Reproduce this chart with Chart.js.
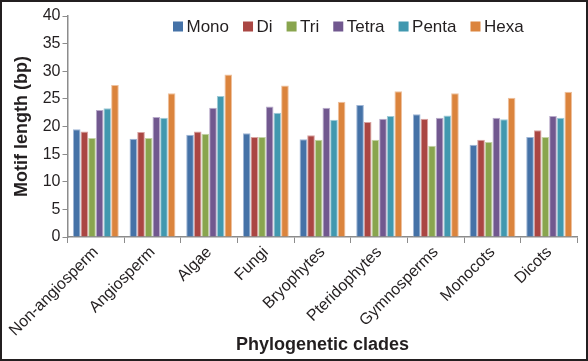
<!DOCTYPE html>
<html>
<head>
<meta charset="utf-8">
<script src="https://cdn.jsdelivr.net/npm/chart.js@4/dist/chart.umd.min.js"></script>
<style>
  html, body { margin: 0; padding: 0; background: #fff; }
  #frame { position: relative; width: 588px; height: 361px; box-sizing: border-box; border: 2px solid #231f20; background: #fff; }
  #wrap { position: absolute; left: 0; top: 0; width: 584px; height: 357px; }
</style>
</head>
<body>
<div id="frame"><div id="wrap"><canvas id="c"></canvas></div></div>
<script>
const categories = ["Non-angiosperm", "Angiosperm", "Algae", "Fungi", "Bryophytes", "Pteridophytes", "Gymnosperms", "Monocots", "Dicots"];
const seriesNames = ["Mono", "Di", "Tri", "Tetra", "Penta", "Hexa"];
const mono  = [19.5, 17.8, 18.5, 18.8, 17.7, 23.9, 22.2, 16.7, 18.1];
const di    = [19.1, 19.0, 19.1, 18.1, 18.4, 20.8, 21.4, 17.6, 19.3];
const tri   = [17.9, 17.9, 18.7, 18.1, 17.6, 17.6, 16.5, 17.2, 18.1];
const tetra = [23.0, 21.7, 23.4, 23.6, 23.4, 21.4, 21.6, 21.6, 21.9];
const penta = [23.3, 21.6, 25.5, 22.5, 21.2, 21.9, 22.0, 21.3, 21.6];
const hexa  = [27.5, 26.0, 29.4, 27.4, 24.5, 26.4, 26.0, 25.2, 26.3];
const yTicks = [0, 5, 10, 15, 20, 25, 30, 35, 40];
const colors = ["#4572A7", "#AA4643", "#89A54E", "#71588F", "#4198AF", "#DB843D"];
const edges  = ["#9fb6d6", "#d9a3a1", "#c4d4a6", "#b9abcb", "#a0cbd7", "#eec19e"];

const seriesValues = [mono, di, tri, tetra, penta, hexa];
const FONT = "'Liberation Sans', Arial, sans-serif";
const TEXT = "#231f20";
const AXIS = "#8c8c8c";

const legendPlugin = {
  id: 'customLegend',
  afterDraw(chart) {
    const ctx = chart.ctx;
    ctx.save();
    ctx.font = "17px " + FONT;
    ctx.textBaseline = 'middle';
    ctx.textAlign = 'left';
    let x = 171;
    const yMid = 24.5;
    const box = 10;
    chart.data.datasets.forEach(ds => {
      ctx.fillStyle = ds.backgroundColor;
      ctx.fillRect(x, yMid - box / 2, box, box);
      x += box + 3.5;
      ctx.fillStyle = TEXT;
      ctx.fillText(ds.label, x, yMid + 1);
      x += ctx.measureText(ds.label).width + 14;
    });
    ctx.restore();
  }
};

new Chart(document.getElementById('c'), {
  type: 'bar',
  data: {
    labels: categories,
    datasets: seriesNames.map((name, i) => ({
      label: name,
      data: seriesValues[i],
      backgroundColor: colors[i],
      borderColor: edges[i],
      borderWidth: 1,
      categoryPercentage: 0.81,
      barPercentage: 1.0
    }))
  },
  options: {
    responsive: true,
    maintainAspectRatio: false,
    animation: false,
    events: [],
    layout: { padding: { top: 14, right: 8.5, left: 0, bottom: 0 } },
    plugins: {
      legend: { display: false },
      tooltip: { enabled: false }
    },
    scales: {
      x: {
        grid: { display: true, drawOnChartArea: false, drawTicks: true, tickLength: 6, color: AXIS, offset: true },
        border: { display: true, color: AXIS, width: 1.5 },
        ticks: { color: TEXT, font: { family: FONT, size: 16 }, minRotation: 45, maxRotation: 45, padding: 0, autoSkip: false },
        title: { display: true, text: 'Phylogenetic clades', color: TEXT, font: { family: FONT, size: 18, weight: 'bold' }, padding: { top: 0, bottom: 3 } },
        afterFit(scale) { scale.height = 122; }
      },
      y: {
        min: 0, max: 40,
        afterBuildTicks(scale) { scale.ticks = yTicks.map(v => ({ value: v })); },
        grid: { display: true, drawOnChartArea: false, drawTicks: true, tickLength: 5, color: AXIS },
        border: { display: true, color: AXIS, width: 1.5 },
        ticks: { color: TEXT, font: { family: FONT, size: 16 }, padding: 2 },
        title: { display: true, text: 'Motif length (bp)', color: TEXT, font: { family: FONT, size: 18, weight: 'bold' }, padding: { top: 9, bottom: 0 } },
        afterFit(scale) { scale.width = 65.5; }
      }
    }
  },
  plugins: [legendPlugin]
});
</script>
</body>
</html>
